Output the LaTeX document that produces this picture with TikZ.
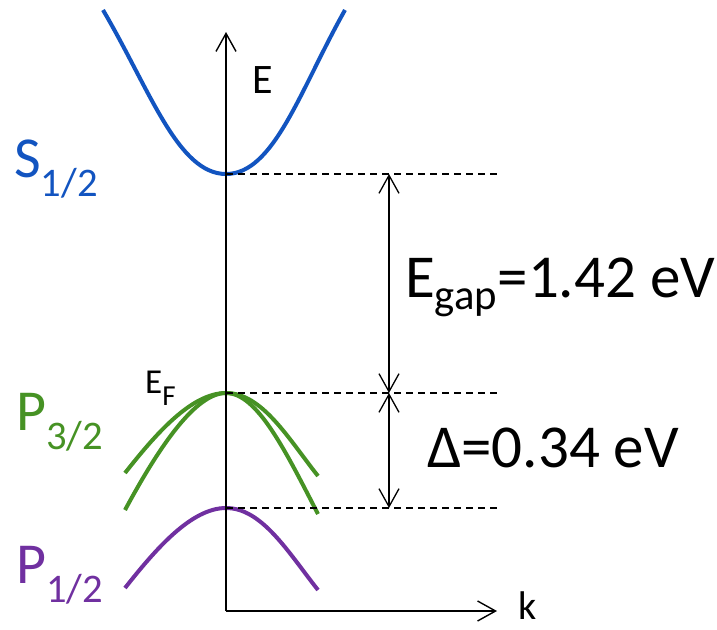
\documentclass[tikz,border=0pt]{standalone}
\usepackage{fontspec}
\setmainfont{Carlito}
\usetikzlibrary{arrows.meta}
\definecolor{sblue}{RGB}{18,84,192}
\definecolor{pgreen}{RGB}{70,146,36}
\definecolor{ppurple}{RGB}{112,48,160}
\tikzset{
  axisline/.style={line width=1.6pt,-{Straight Barb[length=18pt,width=20pt,line width=1.4pt]}},
  gaparrow/.style={line width=1.4pt,{Straight Barb[length=18pt,width=20pt,line width=1.3pt]}-{Straight Barb[length=18pt,width=20pt,line width=1.3pt]}},
  dashline/.style={line width=1.5pt,dash pattern=on 7pt off 5pt},
  band/.style={line width=4pt},
  biglabel/.style={inner sep=0pt,anchor=base west,font=\fontsize{58}{60}\selectfont},
  vallabel/.style={inner sep=0pt,anchor=base west,font=\fontsize{61}{66}\selectfont},
  axlabel/.style={inner sep=0pt,anchor=base west,font=\fontsize{42}{46}\selectfont},
}
\begin{document}
\begin{tikzpicture}[x=1pt,y=-1pt]
\useasboundingbox (0,0) rectangle (717,629);
% key points
\coordinate (O) at (226,611);
\coordinate (Etop) at (226,32);
\coordinate (Kend) at (497,611);
\coordinate (Smin) at (226,174);
\coordinate (Ptop) at (226,393);
\coordinate (Qtop) at (226,508);
\coordinate (Sd) at (497,174);
\coordinate (Pd) at (497,393);
\coordinate (Qd) at (497,508);
\coordinate (A1) at (389,174);
\coordinate (A2) at (389,393);
\coordinate (A3) at (389,508);
% bands
\draw[band,sblue] (103,10) .. controls (150,90) and (178,174) .. (Smin)
  .. controls (274,174) and (300,90) .. (345,10);
\draw[band,pgreen] (125,473) .. controls (155,435) and (191,393) .. (Ptop)
  .. controls (262,393) and (288,438) .. (318,476);
\draw[band,pgreen] (125,510) .. controls (160,445) and (196,393) .. (Ptop)
  .. controls (257,393) and (285,450) .. (318,514);
\draw[band,ppurple] (125,588) .. controls (155,550) and (191,508) .. (Qtop)
  .. controls (262,508) and (288,552) .. (318,590);
% axes
\draw[axisline] (O) -- (Etop);
\draw[axisline] (O) -- (Kend);
% dashed levels
\draw[dashline] (Smin) -- (Sd);
\draw[dashline] (Ptop) -- (Pd);
\draw[dashline] (Qtop) -- (Qd);
% gap arrows
\draw[gaparrow] (A1) -- (A2);
\draw[gaparrow] (A2) -- (A3);
% labels
\node[axlabel] (lE) at (252,93) {E};
\node[inner sep=0pt,anchor=base west,font=\fontsize{40}{40}\selectfont] (lk) at (518,619) {k};
\node[inner sep=0pt,anchor=base west,font=\fontsize{35}{38}\selectfont] (lEF) at (145,393) {E\raisebox{-12pt}{\fontsize{29}{29}\selectfont F}};
\node[biglabel,text=sblue] (lS) at (14,177) {S\textsubscript{1/2}};
\node[biglabel,text=pgreen] (lP3) at (16,430) {P\textsubscript{3/2}};
\node[biglabel,text=ppurple] (lP1) at (16,583) {P\textsubscript{1/2}};
\node[vallabel] (lgap) at (405,297) {E\textsubscript{gap}=1.42 eV};
\node[vallabel] (ldelta) at (427,467) {Δ=0.34 eV};
\end{tikzpicture}
\end{document}
